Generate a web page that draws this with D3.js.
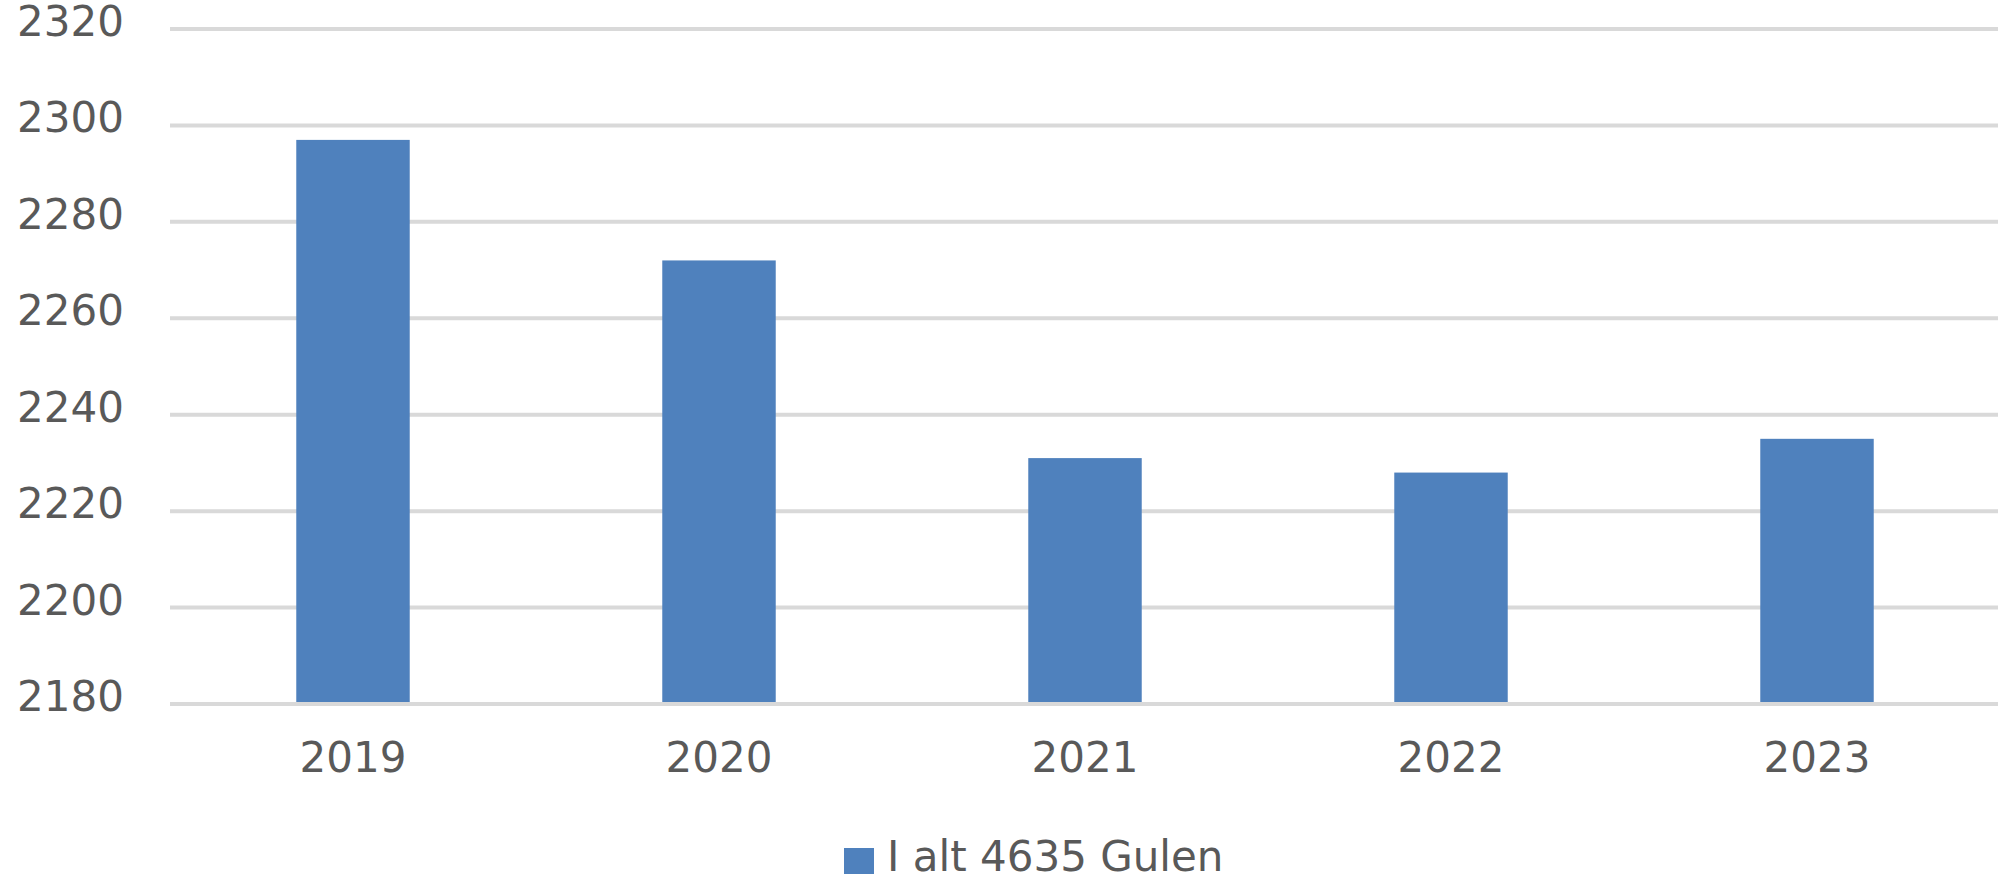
<!DOCTYPE html>
<html>
<head>
<meta charset="utf-8">
<script src="https://d3js.org/d3.v7.min.js"></script>
<style>
  body { margin: 0; background: #fff; }
  text { font-family: "DejaVu Sans", Verdana, sans-serif; fill: #595959; }
</style>
</head>
<body>
<svg id="chart" width="1998" height="877"></svg>
<script>

// data
var years = ["2019", "2020", "2021", "2022", "2023"];
var values = [2297, 2272, 2231, 2228, 2235];
var yTicks = [2180, 2200, 2220, 2240, 2260, 2280, 2300, 2320];
var seriesName = "I alt 4635 Gulen";

var barColor = "#4f81bd";
var gridColor = "#d9d9d9";

var svg = d3.select("#chart");

var plotLeft = 170, plotRight = 1998, plotTop = 29, plotBottom = 704;

var x = d3.scaleBand()
    .domain(years)
    .range([plotLeft, plotLeft + 5 * 366])
    .paddingInner(0.69)
    .paddingOuter(0.345);

var y = d3.scaleLinear()
    .domain([2180, 2320])
    .range([plotBottom, plotTop]);

// gridlines
svg.append("g")
  .selectAll("line")
  .data(yTicks)
  .enter()
  .append("line")
    .attr("x1", plotLeft)
    .attr("x2", plotRight)
    .attr("y1", d => y(d))
    .attr("y2", d => y(d))
    .attr("stroke", gridColor)
    .attr("stroke-width", 4);

// y labels
svg.append("g")
  .selectAll("text")
  .data(yTicks)
  .enter()
  .append("text")
    .attr("x", 124)
    .attr("y", d => y(d) + 7)
    .attr("text-anchor", "end")
    .attr("font-size", "42px")
    .text(d => d);

// bars
svg.append("g")
  .selectAll("rect")
  .data(values)
  .enter()
  .append("rect")
    .attr("x", (d, i) => x(years[i]))
    .attr("width", x.bandwidth())
    .attr("y", d => y(d))
    .attr("height", d => y(2180) - y(d) - 2)
    .attr("fill", barColor);

// x labels
svg.append("g")
  .selectAll("text")
  .data(years)
  .enter()
  .append("text")
    .attr("x", d => x(d) + x.bandwidth() / 2)
    .attr("y", plotBottom + 68)
    .attr("text-anchor", "middle")
    .attr("font-size", "42px")
    .text(d => d);

// legend
var legend = svg.append("g").attr("transform", "translate(844,848)");
legend.append("rect")
    .attr("width", 30)
    .attr("height", 26)
    .attr("fill", barColor);
legend.append("text")
    .attr("x", 43)
    .attr("y", 23)
    .attr("font-size", "42px")
    .text(seriesName);

</script>
</body>
</html>
